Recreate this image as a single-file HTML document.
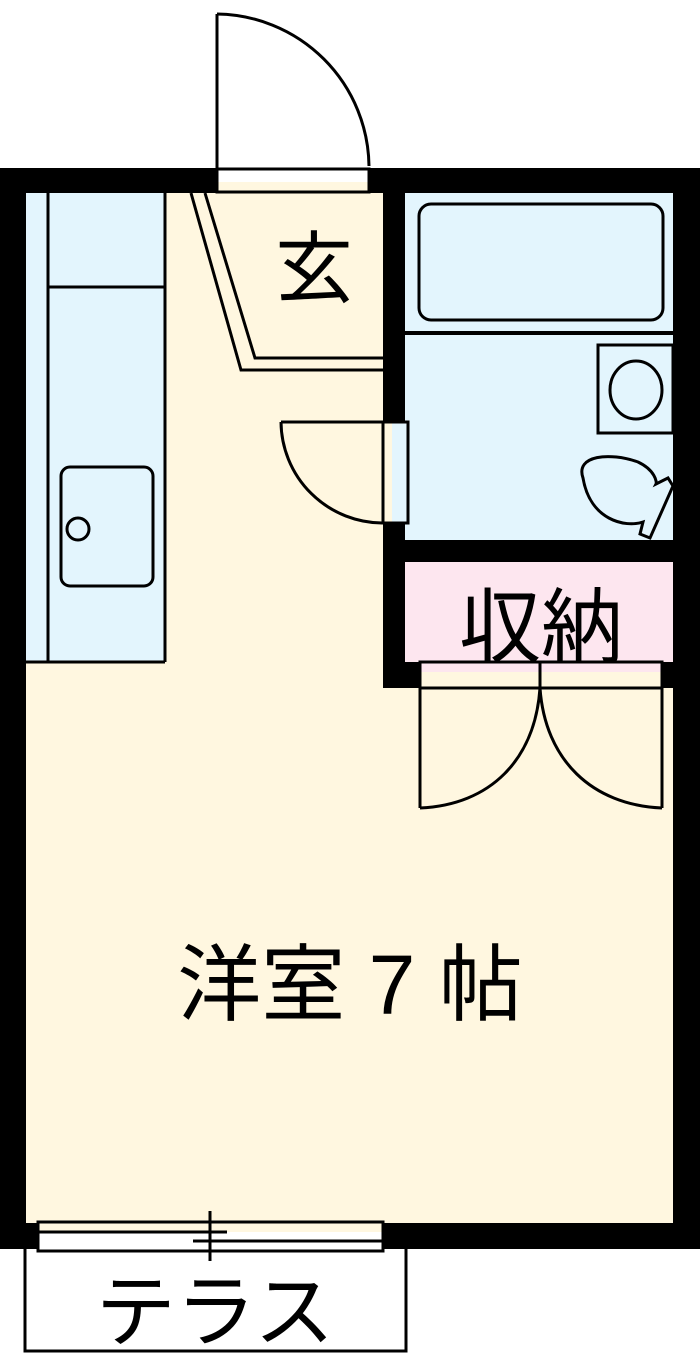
<!DOCTYPE html>
<html><head><meta charset="utf-8"><style>
html,body{margin:0;padding:0;background:#fff;width:700px;height:1366px;overflow:hidden}
text{font-family:"Liberation Sans","Noto Sans CJK JP",sans-serif;fill:#000}
</style></head><body>
<svg width="700" height="1366" viewBox="0 0 700 1366" xmlns="http://www.w3.org/2000/svg">
<rect x="0" y="168" width="700" height="1081" fill="#000"/>
<rect x="26" y="193" width="357" height="1030" fill="#fff7e0"/>
<rect x="383" y="688" width="290" height="535" fill="#fff7e0"/>
<!-- kitchen -->
<rect x="26" y="193" width="139" height="469" fill="#e3f5fd"/>
<g fill="none" stroke="#000" stroke-width="3">
<line x1="48" y1="193" x2="48" y2="662"/>
<line x1="165" y1="193" x2="165" y2="662"/>
<line x1="26" y1="662" x2="165" y2="662"/>
<line x1="48" y1="287" x2="165" y2="287"/>
<rect x="61" y="467" width="92" height="119" rx="9"/>
<circle cx="78" cy="529" r="11"/>
</g>
<!-- entrance door -->
<rect x="216" y="168" width="154" height="25" fill="#fff"/>
<rect x="218" y="182" width="150" height="10" fill="#fff7e0"/>
<g fill="none" stroke="#000" stroke-width="3">
<rect x="217" y="169" width="152" height="23"/>
<line x1="217" y1="14" x2="217" y2="168"/>
<path d="M217 14 A154 154 0 0 1 369 166"/>
<polyline points="191,193 241,370 383,370"/>
<polyline points="205,193 255,358 383,358"/>
</g>
<text x="314" y="296" font-size="78" text-anchor="middle">玄</text>
<!-- bath -->
<rect x="405" y="193" width="268" height="347" fill="#e3f5fd"/>
<rect x="383" y="422" width="25" height="101" fill="#e3f5fd"/>
<rect x="384" y="423" width="8" height="99" fill="#fff7e0"/>
<g fill="none" stroke="#000" stroke-width="3">
<rect x="383" y="422" width="25" height="101"/>
<line x1="281" y1="422" x2="383" y2="422"/>
<path d="M281 422 A102 102 0 0 0 383 523"/>
<rect x="419" y="204" width="244" height="116" rx="12"/>
<line x1="405" y1="333" x2="673" y2="333" stroke-width="4"/>
<rect x="598" y="345" width="75" height="88"/>
<ellipse cx="636" cy="390" rx="26" ry="29"/>
<path d="M583 478 C575 455 610 452 638 462 C655 470 657 482 656 484 L668 478 L673 486 L650 538 L640 534 L643 522 C625 528 590 520 583 478 Z"/>
</g>
<!-- closet -->
<rect x="405" y="562" width="268" height="100" fill="#fde6ef"/>
<rect x="420" y="662" width="242" height="26" fill="#fff7e0"/>
<rect x="420" y="662" width="242" height="10" fill="#fde6ef"/>
<g fill="none" stroke="#000" stroke-width="3">
<rect x="420" y="662" width="242" height="26"/>
<line x1="540" y1="662" x2="540" y2="688"/>
<line x1="420" y1="688" x2="420" y2="808"/>
<line x1="662" y1="688" x2="662" y2="808"/>
<path d="M420 808 C490 805 535 760 540 688"/>
<path d="M662 808 C592 805 545 760 540 688"/>
</g>
<text x="541" y="656" font-size="82" text-anchor="middle">収納</text>
<text x="350" y="1014" font-size="84" text-anchor="middle">洋室 7 帖</text>
<!-- window -->
<rect x="38" y="1222" width="345" height="29" fill="#fff"/>
<rect x="38" y="1222" width="345" height="10" fill="#fff7e0"/>
<g fill="none" stroke="#000" stroke-width="3">
<rect x="38" y="1222" width="345" height="29"/>
<line x1="38" y1="1232" x2="227" y2="1232"/>
<line x1="193" y1="1241" x2="383" y2="1241"/>
<line x1="210" y1="1211" x2="210" y2="1261"/>
<polyline points="25,1249 25,1351 406,1351 406,1249"/>
</g>
<text x="215" y="1340" font-size="80" text-anchor="middle">テラス</text>
</svg>
</body></html>
